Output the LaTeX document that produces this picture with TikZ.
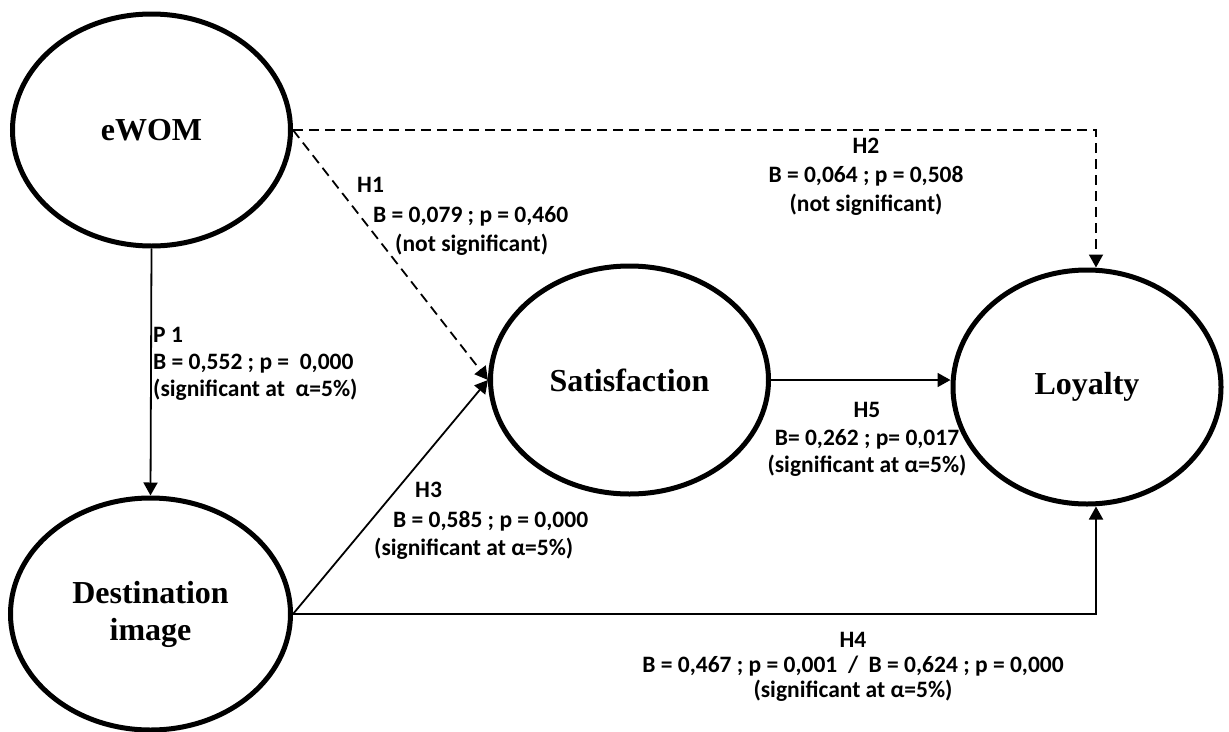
\documentclass[tikz,border=0pt]{standalone}
\usepackage{fontspec}
\setmainfont{Liberation Serif}
\newfontfamily\labfont{Carlito}
\usetikzlibrary{shapes.geometric,arrows.meta,calc}
\begin{document}
\begin{tikzpicture}[x=1pt,y=-1pt,
  latent/.style={ellipse, draw, line width=5pt, inner sep=0pt, align=center,
    font=\fontsize{32}{37}\selectfont\bfseries},
  sigpath/.style={line width=1.8pt, -{Triangle[length=13pt,width=14pt]}},
  nsigpath/.style={sigpath, dash pattern=on 10pt off 6pt},
  lab/.style={font=\labfont\bfseries\fontsize{23.5}{29}\selectfont, inner sep=0pt}]
\useasboundingbox (0,0) rectangle (1229,731);
% constructs
\node[latent, minimum width=278pt, minimum height=232pt] (ewom) at (151.5,130) {eWOM};
\node[latent, minimum width=280pt, minimum height=232pt] (dest) at (150.5,614) {Destination\\image};
\node[latent, minimum width=278pt, minimum height=228pt] (sat) at (629.5,380) {Satisfaction};
\node[latent, minimum width=268pt, minimum height=234pt] (loy) at (1087,387) {Loyalty};
% connectors
\draw[nsigpath] (ewom.east) -- (sat.west);
\draw[nsigpath] (ewom.east) -| ($(loy.north)+(9,0)$);
\draw[sigpath] (ewom.south) -- (dest.north);
\draw[sigpath] (dest.east) -- (sat.west);
\draw[sigpath] (dest.east) -| ($(loy.south)+(9,0)$);
\draw[sigpath] (sat.east) -- (sat.east -| loy.west);
% labels
\node[lab, anchor=base west] (h1a) at (357,192) {H1};
\node[lab, anchor=base west] (h1b) at (373,222) {B = 0,079 ; p = 0,460};
\node[lab, anchor=base west] (h1c) at (395,251) {(not significant)};
\node[lab, anchor=base] (h2a) at (866,153) {H2};
\node[lab, anchor=base] (h2b) at (866,182) {B = 0,064 ; p = 0,508};
\node[lab, anchor=base] (h2c) at (866,211) {(not significant)};
\node[lab, anchor=base west] (p1a) at (153,342) {P 1};
\node[lab, anchor=base west] (p1b) at (153,369) {B = 0,552 ; p = \ 0,000};
\node[lab, anchor=base west] (p1c) at (153,396) {(significant at \ α=5\%)};
\node[lab, anchor=base west] (h3a) at (415,497) {H3};
\node[lab, anchor=base west] (h3b) at (393,527) {B = 0,585 ; p = 0,000};
\node[lab, anchor=base west] (h3c) at (374,555) {(significant at α=5\%)};
\node[lab, anchor=base] (h5a) at (867,417) {H5};
\node[lab, anchor=base] (h5b) at (867,445) {B= 0,262 ; p= 0,017};
\node[lab, anchor=base] (h5c) at (867,472) {(significant at α=5\%)};
\node[lab, anchor=base] (h4a) at (853,647) {H4};
\node[lab, anchor=base] (h4b) at (853,672) {B = 0,467 ; p = 0,001 \ / \ B = 0,624 ; p = 0,000};
\node[lab, anchor=base] (h4c) at (853,697) {(significant at α=5\%)};
\end{tikzpicture}
\end{document}
